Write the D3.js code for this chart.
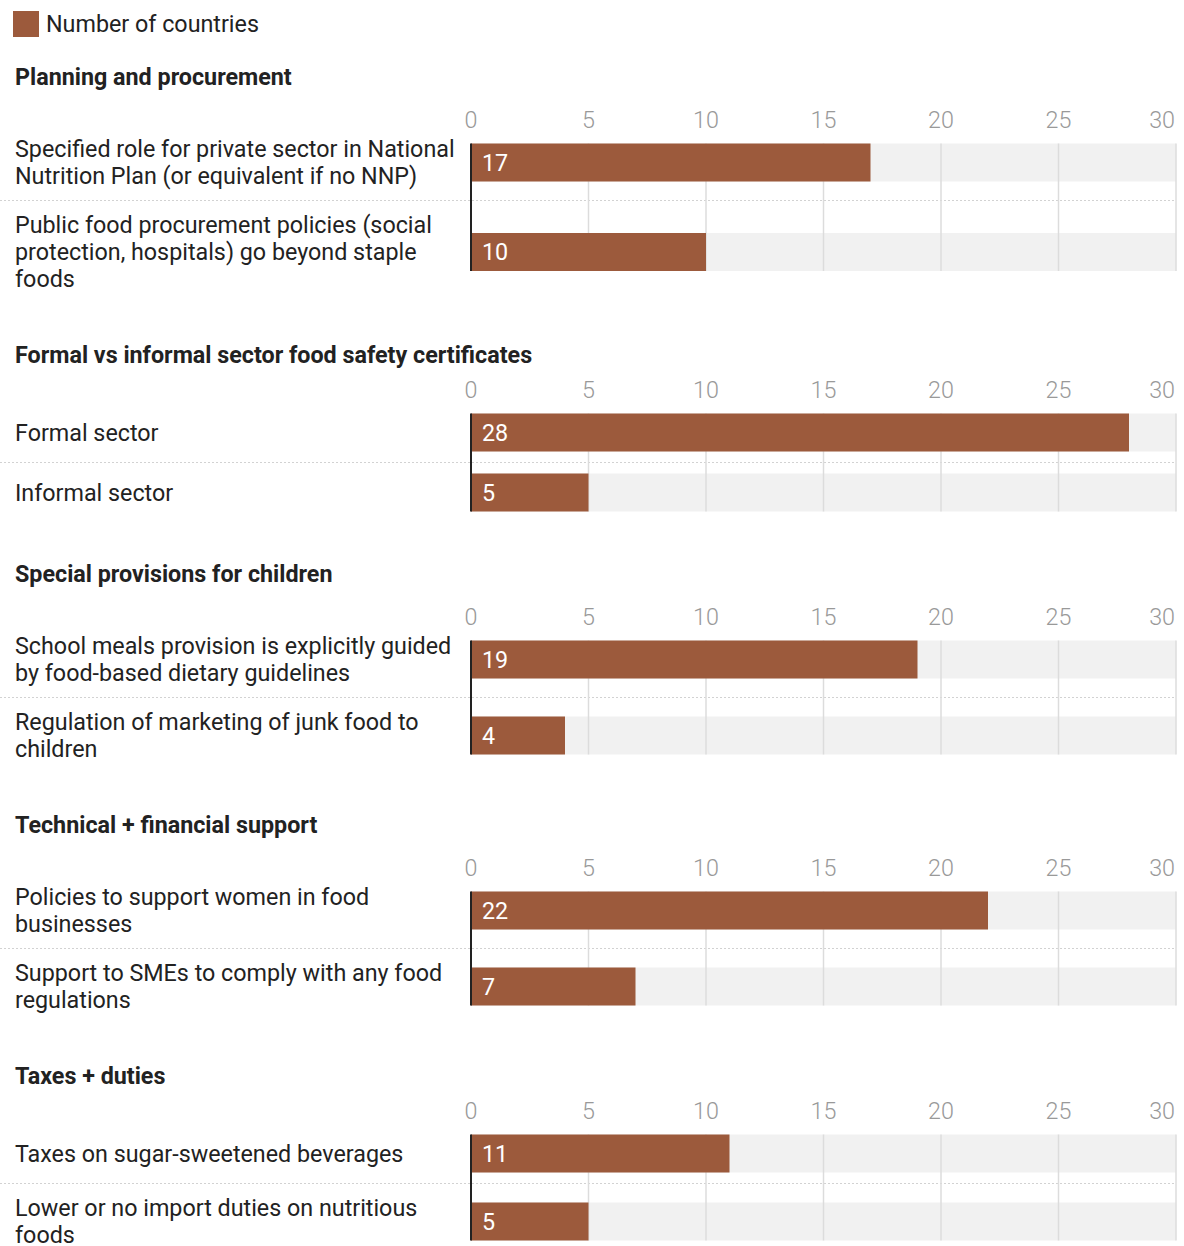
<!DOCTYPE html>
<html>
<head>
<meta charset="utf-8">
<script src="https://cdn.jsdelivr.net/npm/d3@7"></script>
<style>
  body { margin: 0; background: #fff; font-family: Roboto, "Noto Sans", sans-serif; }
  svg text { font-family: Roboto, "Noto Sans", sans-serif; }
</style>
</head>
<body>
<div id="chart"></div>
<script>
// data
var groupTitles = ["Planning and procurement", "Formal vs informal sector food safety certificates",
  "Special provisions for children", "Technical + financial support", "Taxes + duties"];
var rowLabels = [
  ["Specified role for private sector in National Nutrition Plan (or equivalent if no NNP)",
   "Public food procurement policies (social protection, hospitals) go beyond staple foods"],
  ["Formal sector", "Informal sector"],
  ["School meals provision is explicitly guided by food-based dietary guidelines",
   "Regulation of marketing of junk food to children"],
  ["Policies to support women in food businesses",
   "Support to SMEs to comply with any food regulations"],
  ["Taxes on sugar-sweetened beverages", "Lower or no import duties on nutritious foods"]
];
var rowValues = [[17, 10], [28, 5], [19, 4], [22, 7], [11, 5]];
var axisTicks = [0, 5, 10, 15, 20, 25, 30];
var legendLabel = "Number of countries";

var W = 1184, H = 1246;
var barColor = "#9c5a3c";
var fontSize = "23.3px";
var labelX = 15, wrapWidth = 447, lineH = 27, barH = 38, rowGap = 22;

var svg = d3.select("#chart").append("svg")
  .attr("width", W).attr("height", H);

var x = d3.scaleLinear().domain([0, 30]).range([471, 1176]);

// legend
svg.append("rect").attr("x", 13).attr("y", 11).attr("width", 26).attr("height", 26).attr("fill", barColor);
svg.append("text").attr("x", 46).attr("y", 24).attr("dy", "0.35em")
  .style("font-size", fontSize).attr("fill", "#222").text(legendLabel);

// wrap a label into lines that fit the label column
function wrapLines(str) {
  var tmp = svg.append("text").style("font-size", fontSize);
  var words = str.split(" "), lines = [], line = "";
  words.forEach(function(w) {
    var test = line ? line + " " + w : w;
    tmp.text(test);
    if (tmp.node().getComputedTextLength() > wrapWidth && line) {
      lines.push(line);
      line = w;
    } else {
      line = test;
    }
  });
  lines.push(line);
  tmp.remove();
  return lines;
}

var titleY = 77;
groupTitles.forEach(function(title, gi) {
  var g = svg.append("g").attr("class", "group");

  g.append("text").attr("x", labelX).attr("y", titleY).attr("dy", "0.35em")
    .style("font-size", fontSize).style("font-weight", "bold").attr("fill", "#222")
    .text(title);

  // row layout
  var rows = [];
  var top = titleY + 58.5;
  rowLabels[gi].forEach(function(lbl, ri) {
    var lines = wrapLines(lbl);
    var h = Math.max(barH, lines.length * lineH);
    rows.push({ label: lbl, lines: lines, value: rowValues[gi][ri], top: top, h: h, cy: top + h / 2 });
    top += h + rowGap;
  });
  var lastBottom = rows[rows.length - 1].top + rows[rows.length - 1].h;

  var firstBarTop = rows[0].cy - barH / 2;
  var lastBarBottom = rows[rows.length - 1].cy + barH / 2;

  // background bands
  g.selectAll("rect.bg").data(rows).enter().append("rect")
    .attr("class", "bg")
    .attr("x", x(0)).attr("width", x(30) - x(0))
    .attr("y", function(d) { return d.cy - barH / 2; }).attr("height", barH)
    .attr("fill", "#f1f1f1");

  // separators
  g.selectAll("line.sep").data(rows.slice(1)).enter().append("line")
    .attr("class", "sep")
    .attr("x1", 0).attr("x2", x(30))
    .attr("y1", function(d) { return d.top - rowGap / 2; })
    .attr("y2", function(d) { return d.top - rowGap / 2; })
    .attr("stroke", "#d2d2d2").attr("stroke-width", 1).attr("stroke-dasharray", "2,2");

  // gridlines
  g.selectAll("line.grid").data(axisTicks.slice(1)).enter().append("line")
    .attr("class", "grid")
    .attr("x1", function(d) { return x(d); }).attr("x2", function(d) { return x(d); })
    .attr("y1", firstBarTop).attr("y2", lastBarBottom)
    .attr("stroke", "#dcdcdc").attr("stroke-width", 1.5);

  // tick labels
  g.selectAll("text.tick").data(axisTicks).enter().append("text")
    .attr("class", "tick")
    .attr("x", function(d, i) { return i === axisTicks.length - 1 ? x(d) - 1 : x(d); })
    .attr("y", firstBarTop - 24).attr("dy", "0.35em")
    .attr("text-anchor", function(d, i) { return i === axisTicks.length - 1 ? "end" : "middle"; })
    .style("font-size", fontSize).style("font-weight", 300).attr("fill", "#999")
    .text(function(d) { return d; });

  // bars
  g.selectAll("rect.bar").data(rows).enter().append("rect")
    .attr("class", "bar")
    .attr("x", x(0)).attr("width", function(d) { return x(d.value) - x(0); })
    .attr("y", function(d) { return d.cy - barH / 2; }).attr("height", barH)
    .attr("fill", barColor);

  // value labels
  g.selectAll("text.val").data(rows).enter().append("text")
    .attr("class", "val")
    .attr("x", x(0) + 11).attr("y", function(d) { return d.cy; }).attr("dy", "0.35em")
    .style("font-size", fontSize).attr("fill", "#fff")
    .text(function(d) { return d.value; });

  // axis line
  g.append("line")
    .attr("x1", x(0)).attr("x2", x(0))
    .attr("y1", firstBarTop).attr("y2", lastBarBottom)
    .attr("stroke", "#222").attr("stroke-width", 2);

  // row labels
  rows.forEach(function(r) {
    var t = g.append("text").attr("x", labelX)
      .style("font-size", fontSize).attr("fill", "#222");
    r.lines.forEach(function(ln, i) {
      t.append("tspan").attr("x", labelX)
        .attr("y", r.cy + (i - (r.lines.length - 1) / 2) * lineH)
        .attr("dy", "0.35em").text(ln);
    });
  });

  titleY = lastBottom + 62.5;
});
</script>
</body>
</html>
